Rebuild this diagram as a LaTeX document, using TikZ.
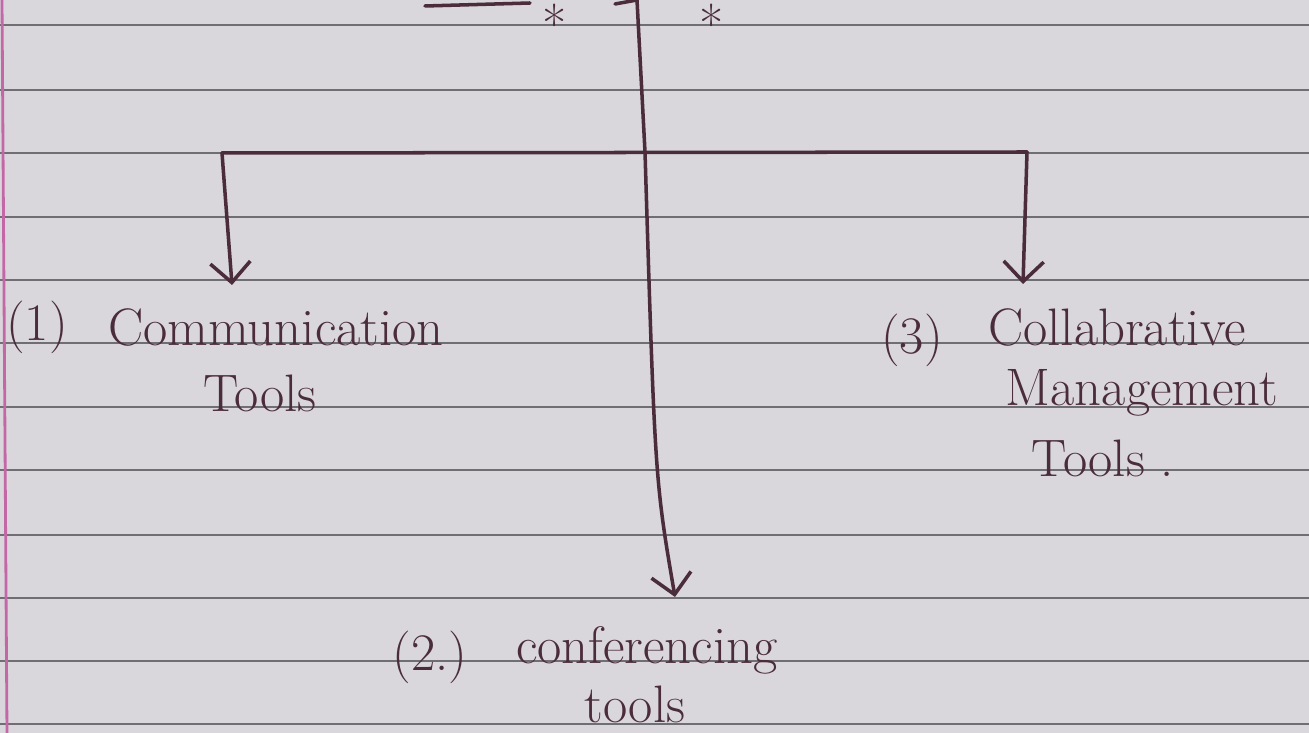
\documentclass[tikz,border=0pt]{standalone}
\usetikzlibrary{arrows.meta}
\definecolor{paper}{HTML}{D9D7DB}
\definecolor{rule}{HTML}{6F6E73}
\definecolor{ink}{HTML}{4A2C3A}
\definecolor{margin}{HTML}{C467A6}
\begin{document}
\begin{tikzpicture}
[
    x=0.1mm, y=-0.1mm,
    pen/.style={draw=ink, line width=1pt, line cap=round, line join=round},
    pointer/.style={pen, -{Straight Barb[length=2mm,width=4mm,line width=1pt]}},
    hand/.style={text=ink, inner sep=0pt, font=\fontsize{15}{18}\selectfont}
]
    \fill [paper] (0,0) rectangle (1309,733);
    \useasboundingbox (0,0) rectangle (1309,733);
    \foreach \y in {25,90,153,217,280,343,407,470,535,598,661,724}
        \draw [rule, line width=0.5pt] (0,\y) -- (1309,\y);
    \draw [margin, line width=0.8pt] (2,0) -- (7,733);

    \coordinate (hook) at (615,4);
    \coordinate (top) at (637,0);
    \coordinate (junc) at (645,152);
    \coordinate (lbar) at (222,153);
    \coordinate (rbar) at (1027,152);
    \coordinate (ltip) at (232,285);
    \coordinate (rtip) at (1023,284);
    \coordinate (mtip) at (675,597);
    \coordinate (dashl) at (425,6);
    \coordinate (dashr) at (530,3);

    \node [hand, anchor=north, inner sep=1pt] (star1) at (555,0) {*};
    \node [hand, anchor=north, inner sep=1pt] (star2) at (712,0) {*};

    \node [hand] (n1) at (37,327) {(1)};
    \node [hand] (comm) at (276,327) {Communication};
    \node [hand] (commb) at (260,393) {Tools};
    \node [hand] (n3) at (912,340) {(3)};
    \node [hand] (collab) at (1117,327) {Collabrative};
    \node [hand] (collabm) at (1142,393) {Management};
    \node [hand] (collabt) at (1103,458) {Tools .};
    \node [hand] (n2) at (430,657) {(2.)};
    \node [hand] (conf) at (647,650) {conferencing};
    \node [hand] (confb) at (635,704) {tools};

    \draw [pen] (dashl) -- (dashr);
    \draw [pen] (hook) -- (top) -- (junc);
    \draw [pen] (lbar) -- (rbar);
    \draw [pointer] (lbar) -- (ltip);
    \draw [pointer] (rbar) -- (rtip);
    \draw [pointer] (junc) .. controls (655,480) .. (mtip);
\end{tikzpicture}
\end{document}
